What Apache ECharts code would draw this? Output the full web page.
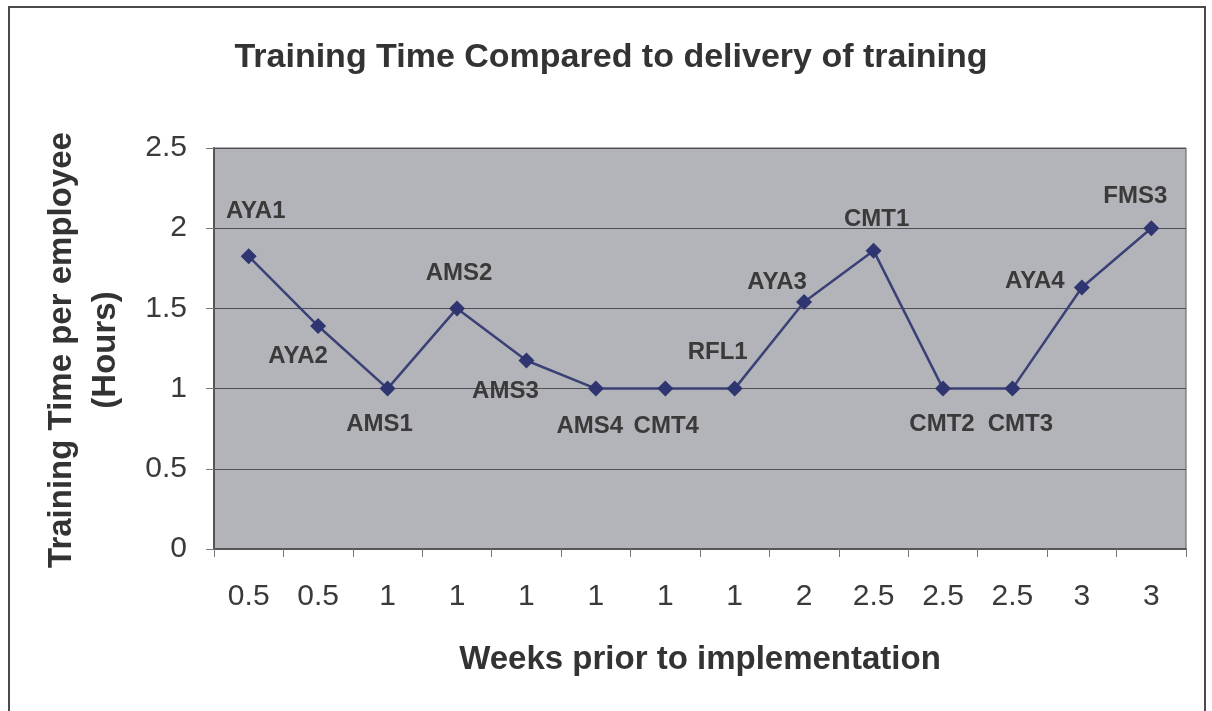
<!DOCTYPE html>
<html lang="en">
<head>
    <meta charset="UTF-8">
    <title>Training Time Compared to delivery of training</title>
    <style>
        html, body { margin: 0; padding: 0; background: #fff; }
    </style>
</head>
<body>
<div id="main" style="width: 1212px;height: 711px"></div>
<script src="https://cdn.jsdelivr.net/npm/echarts@6/dist/echarts.min.js"></script>
<script>
    // chart data
    var weeks = ['0.5', '0.5', '1', '1', '1', '1', '1', '1', '2', '2.5', '2.5', '2.5', '3', '3'];
    var codes = ['AYA1', 'AYA2', 'AMS1', 'AMS2', 'AMS3', 'AMS4', 'CMT4', 'RFL1', 'AYA3', 'CMT1', 'CMT2', 'CMT3', 'AYA4', 'FMS3'];
    var hours = [1.825, 1.39, 1, 1.5, 1.175, 1, 1, 1, 1.54, 1.86, 1, 1, 1.63, 2];
    var yTicks = [0, 0.5, 1, 1.5, 2, 2.5];

    // where each point label sits relative to its marker [dx, dy]
    var labelShift = [
        [7, -45], [-20, 30], [-8, 36], [2, -35], [-21, 31], [-6, 38], [1, 38],
        [-17, -36], [-27, -20], [3, -31], [-1, 36], [8, 36], [-47, -6], [-16, -32]
    ];

    var container = document.getElementById('main');
    var myChart = echarts.init(container);

    var seriesData = [];
    for (var i = 0; i < hours.length; i++) {
        seriesData.push({
            value: hours[i],
            label: {
                show: true,
                position: 'inside',
                offset: labelShift[i],
                formatter: codes[i]
            }
        });
    }

    var option = {
        backgroundColor: '#ffffff',
        animation: false,
        title: {
            text: 'Training Time Compared to delivery of training',
            left: 606,
            top: 36,
            textAlign: 'center',
            textStyle: {
                fontFamily: 'Liberation Sans',
                fontSize: 34,
                fontWeight: 'bold',
                color: '#333333'
            }
        },
        graphic: [
            {
                type: 'rect',
                shape: {x: 9, y: 7, width: 1196, height: 720},
                style: {fill: 'none', stroke: '#4a4a4a', lineWidth: 2},
                silent: true
            },
            {
                type: 'text',
                x: 84,
                y: 350,
                rotation: Math.PI / 2,
                style: {
                    text: 'Training Time per employee\n(Hours)',
                    font: 'bold 33px "Liberation Sans"',
                    fill: '#333333',
                    align: 'center',
                    verticalAlign: 'middle',
                    lineHeight: 44
                }
            }
        ],
        grid: {
            left: 214,
            right: 26,
            top: 148,
            bottom: 162,
            show: true,
            backgroundColor: '#b3b3ba',
            borderColor: '#5a5a5e',
            borderWidth: 1
        },
        xAxis: {
            type: 'category',
            data: weeks,
            boundaryGap: true,
            name: 'Weeks prior to implementation',
            nameLocation: 'middle',
            nameGap: 94,
            nameTextStyle: {
                fontFamily: 'Liberation Sans',
                fontSize: 33,
                fontWeight: 'bold',
                color: '#333333'
            },
            axisLine: {lineStyle: {color: '#555555', width: 2}},
            axisTick: {show: true, length: 8, alignWithLabel: false, lineStyle: {color: '#777777'}},
            axisLabel: {
                fontFamily: 'Liberation Sans',
                fontSize: 30,
                color: '#3a3a3a',
                margin: 33,
                interval: 0
            },
            splitLine: {show: false}
        },
        yAxis: {
            type: 'value',
            min: yTicks[0],
            max: yTicks[yTicks.length - 1],
            interval: 0.5,
            axisLine: {show: true, lineStyle: {color: '#555555', width: 2}},
            axisTick: {show: true, length: 8, lineStyle: {color: '#777777'}},
            axisLabel: {
                fontFamily: 'Liberation Sans',
                fontSize: 30,
                color: '#3a3a3a',
                margin: 27
            },
            splitLine: {show: true, lineStyle: {color: '#4f4f55', width: 1}}
        },
        series: [
            {
                type: 'line',
                data: seriesData,
                symbol: 'diamond',
                symbolSize: 16,
                lineStyle: {color: '#3b4175', width: 2.5},
                itemStyle: {color: '#2f3570'},
                label: {
                    fontFamily: 'Liberation Sans',
                    fontSize: 24,
                    fontWeight: 'bold',
                    color: '#3a3a3a'
                }
            }
        ]
    };

    myChart.setOption(option);
</script>
</body>
</html>
